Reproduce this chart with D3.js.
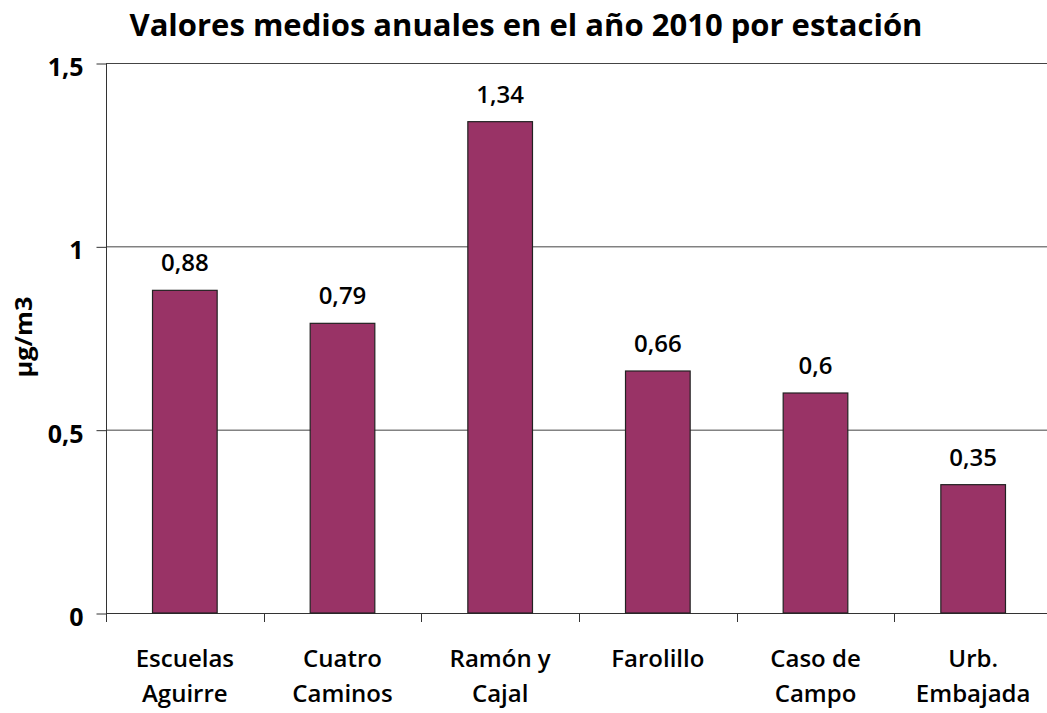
<!DOCTYPE html>
<head>
<meta charset="utf-8" />
<script src="https://d3js.org/d3.v7.min.js"></script>
<style>
    body { margin: 0; background: #fff; font-family: "Open Sans", sans-serif; }
</style>
</head>
<body>
<div id="chart"></div>
<script>
    var estaciones = [["Escuelas", "Aguirre"], ["Cuatro", "Caminos"], ["Ramón y", "Cajal"],
                      ["Farolillo"], ["Caso de", "Campo"], ["Urb.", "Embajada"]];
    var valores = [0.88, 0.79, 1.34, 0.66, 0.6, 0.35];
    var etiquetas = ["0,88", "0,79", "1,34", "0,66", "0,6", "0,35"];
    var ticksY = [0, 0.5, 1, 1.5];

    var width = 1047, height = 713;
    var mLeft = 106, mTop = 63, mBottom = 613, mRight = 1052;

    var svg = d3.select("#chart").append("svg")
        .attr("width", width).attr("height", height);

    var x = d3.scaleBand()
        .domain(d3.range(valores.length))
        .range([mLeft, mRight])
        .paddingInner(0.59).paddingOuter(0.295);

    var y = d3.scaleLinear().domain([0, 1.5]).range([mBottom, mTop]);

    // titulo
    svg.append("text")
        .attr("x", 526).attr("y", 36)
        .attr("text-anchor", "middle")
        .style("font-size", "31px").style("font-weight", "bold")
        .text("Valores medios anuales en el año 2010 por estación");

    // lineas de division
    svg.append("g").selectAll("line")
        .data(ticksY.filter(d => d > 0))
        .join("line")
        .attr("x1", mLeft).attr("x2", width)
        .attr("y1", d => y(d) + 0.5).attr("y2", d => y(d) + 0.5)
        .attr("stroke", "#444").attr("stroke-width", 1);

    // eje y
    var ejeY = svg.append("g")
        .attr("transform", "translate(" + (mLeft + 0.5) + ",0.5)")
        .call(d3.axisLeft(y).tickValues(ticksY).tickSize(10).tickPadding(13)
            .tickFormat(d => String(d).replace(".", ",")));
    ejeY.select(".domain").attr("stroke", "#333").attr("d", "M0," + mTop + "V" + mBottom);
    ejeY.selectAll(".tick line").attr("stroke", "#333");
    ejeY.selectAll("text").style("font-size", "25px").style("font-weight", "bold")
        .style("font-family", "'Open Sans', sans-serif").attr("fill", "#000")
        .attr("dy", "0.48em");

    // eje x
    var bandStep = x.step();
    var divisiones = d3.range(valores.length + 1).map(i => mLeft + i * bandStep);
    svg.append("line")
        .attr("x1", mLeft).attr("x2", width)
        .attr("y1", mBottom + 0.5).attr("y2", mBottom + 0.5)
        .attr("stroke", "#333");
    svg.append("g").selectAll("line")
        .data(divisiones)
        .join("line")
        .attr("x1", d => Math.round(d) + 0.5).attr("x2", d => Math.round(d) + 0.5)
        .attr("y1", mBottom).attr("y2", mBottom + 9)
        .attr("stroke", "#333");

    // barras
    svg.append("g").selectAll("rect")
        .data(valores)
        .join("rect")
        .attr("x", (d, i) => x(i))
        .attr("y", d => y(d))
        .attr("width", x.bandwidth())
        .attr("height", d => mBottom - y(d))
        .attr("fill", "#993366")
        .attr("stroke", "#222").attr("stroke-width", 1.2);

    // etiquetas de valor
    svg.append("g").selectAll("text")
        .data(valores)
        .join("text")
        .attr("x", (d, i) => x(i) + x.bandwidth() / 2)
        .attr("y", d => y(d) - 19)
        .attr("text-anchor", "middle")
        .style("font-size", "24px").style("font-weight", "600")
        .text((d, i) => etiquetas[i]);

    // nombres de estaciones
    var nombres = svg.append("g").selectAll("text")
        .data(estaciones)
        .join("text")
        .attr("x", (d, i) => x(i) + x.bandwidth() / 2)
        .attr("y", 667)
        .attr("text-anchor", "middle")
        .style("font-size", "24px").style("font-weight", "600");
    nombres.selectAll("tspan")
        .data(d => d)
        .join("tspan")
        .attr("x", function () { return d3.select(this.parentNode).attr("x"); })
        .attr("dy", (d, i) => i === 0 ? 0 : 35)
        .text(d => d);

    // titulo eje y
    svg.append("text")
        .attr("transform", "translate(32,337) rotate(-90)")
        .attr("text-anchor", "middle")
        .attr("textLength", 81).attr("lengthAdjust", "spacingAndGlyphs")
        .style("font-size", "23px").style("font-weight", "bold")
        .text("µg/m3");
</script>
</body>
